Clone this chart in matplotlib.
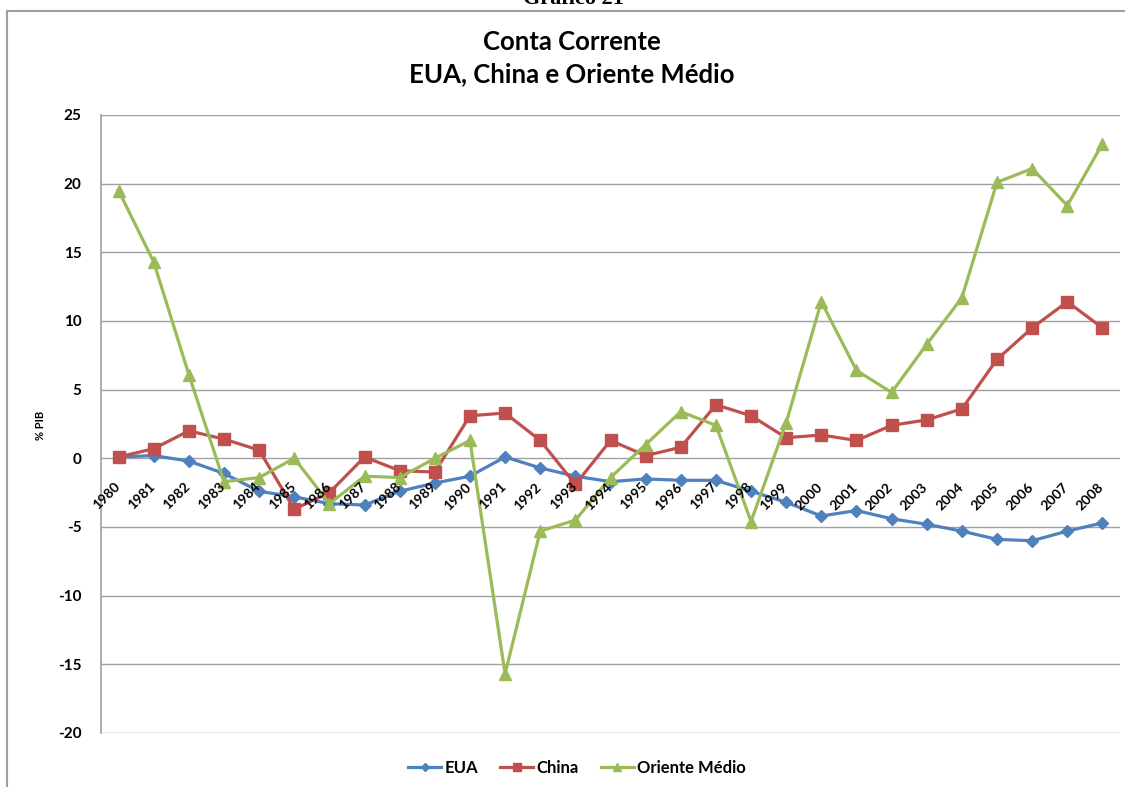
import matplotlib
matplotlib.use("Agg")
import matplotlib.pyplot as plt
from matplotlib.patches import Rectangle

# dados (% PIB)
anos = [str(a) for a in range(1980, 2009)]
eua = [0.1, 0.2, -0.2, -1.1, -2.4, -2.8, -3.3, -3.4, -2.4, -1.8,
       -1.3, 0.1, -0.7, -1.3, -1.7, -1.5, -1.6, -1.6, -2.4, -3.2,
       -4.2, -3.8, -4.4, -4.8, -5.3, -5.9, -6.0, -5.3, -4.7]
china = [0.1, 0.7, 2.0, 1.4, 0.6, -3.7, -2.5, 0.1, -0.9, -1.0,
         3.1, 3.3, 1.3, -1.9, 1.3, 0.2, 0.8, 3.9, 3.1, 1.5,
         1.7, 1.3, 2.4, 2.8, 3.6, 7.2, 9.5, 11.4, 9.5]
oriente = [19.5, 14.3, 6.1, -1.7, -1.4, 0.0, -3.3, -1.3, -1.4, 0.0,
           1.3, -15.7, -5.3, -4.5, -1.4, 1.0, 3.4, 2.4, -4.6, 2.6,
           11.4, 6.4, 4.8, 8.3, 11.7, 20.1, 21.1, 18.4, 22.9]
yticks = [25, 20, 15, 10, 5, 0, -5, -10, -15, -20]

AZUL = '#4F81BD'
VERMELHO = '#C0504D'
VERDE = '#9BBB59'
CINZA = '#A0A0A0'
FONTE = 'Lato'

fig = plt.figure(figsize=(11.25, 7.87), dpi=100)
ax = fig.add_axes([101/1125, 1 - 733/787, (1120 - 101)/1125, (733 - 115)/787])

x = list(range(len(anos)))
ax.plot(x, eua, '-D', color=AZUL, lw=2.3, ms=6, label='EUA')
ax.plot(x, china, '-s', color=VERMELHO, lw=2.3, ms=9, label='China')
ax.plot(x, oriente, '-^', color=VERDE, lw=2.3, ms=9, label='Oriente Médio')

ax.set_xlim(-0.5, len(anos) - 0.5)
ax.set_ylim(-20, 25)
ax.set_yticks(yticks)
ax.set_yticklabels([str(v) for v in yticks], fontsize=11, fontweight='bold',
                   family=FONTE)
ax.tick_params(axis='y', length=0, pad=14)
ax.set_xticks([])
ax.yaxis.grid(True, color=CINZA, lw=1)
ax.set_axisbelow(True)
for s in ['top', 'right', 'bottom']:
    ax.spines[s].set_visible(False)
ax.spines['left'].set_color(CINZA)
ax.spines['left'].set_linewidth(1.2)

# rótulos dos anos sobre a linha do zero (por cima das séries, como no Excel)
for i, a in enumerate(anos):
    ax.annotate(a, xy=(i, 0), xytext=(2.5, -16), textcoords='offset points',
                rotation=45, ha='right', va='top', fontsize=10,
                fontweight='bold', family=FONTE, zorder=5)

fig.text(40/1125, 1 - 425/787, '% PIB', rotation=90, ha='center', va='center',
         fontsize=8, fontweight='bold', family=FONTE)

fig.text(572/1125, 1 - 50/787, 'Conta Corrente', ha='center', va='baseline',
         fontsize=18.5, fontweight='bold', family=FONTE)
fig.text(572/1125, 1 - 82/787, 'EUA, China e Oriente Médio', ha='center',
         va='baseline', fontsize=18.5, fontweight='bold', family=FONTE)

fig.text(573/1125, 1 - 4/787, 'Gráfico 21', ha='center', va='baseline',
         fontsize=16, fontweight='bold', family='Liberation Serif')

# moldura do gráfico
fig.add_artist(Rectangle((7/1125, -0.05), 1.1, 1 - 11/787 + 0.05,
                         transform=fig.transFigure, fill=False,
                         edgecolor=CINZA, lw=1.5))

leg = fig.legend(loc='center', bbox_to_anchor=(577/1125, 1 - 768/787), ncol=3,
                 frameon=False, handlelength=2.0, handletextpad=0.2,
                 columnspacing=1.3, markerscale=0.7,
                 prop={'family': FONTE, 'weight': 'bold', 'size': 12})

fig.savefig('out.png', dpi=100)
